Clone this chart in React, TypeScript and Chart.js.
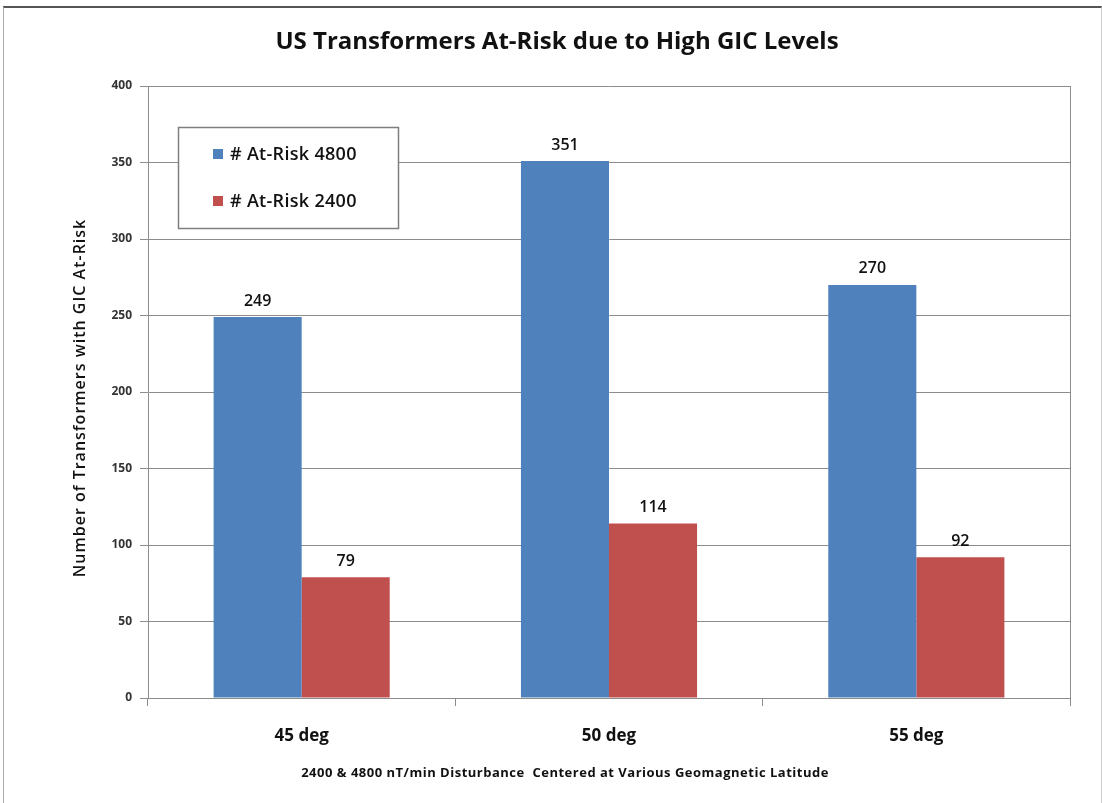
import React, { useEffect, useRef } from "react";
import { Chart, registerables } from "chart.js";

Chart.register(...registerables);

const categories = ["45 deg", "50 deg", "55 deg"];
const risk4800 = [249, 351, 270];
const risk2400 = [79, 114, 92];
const seriesNames = ["# At-Risk 4800", "# At-Risk 2400"];
const chartTitle = "US Transformers At-Risk due to High GIC Levels";
const yTitle = "Number of Transformers with GIC At-Risk";
const xTitle = "2400 & 4800 nT/min Disturbance  Centered at Various Geomagnetic Latitude";
const colors = ["#4F81BD", "#C0504D"];
const FONT = "'Open Sans', 'Noto Sans', sans-serif";

const decorPlugin = {
  id: "decor",
  afterDatasetsDraw(chart: any) {
    const ctx = chart.ctx;
    const area = chart.chartArea;
    ctx.save();
    // plot right border
    ctx.strokeStyle = "#8c8c8c";
    ctx.lineWidth = 1;
    ctx.beginPath();
    ctx.moveTo(Math.round(area.right) + 0.5, area.top);
    ctx.lineTo(Math.round(area.right) + 0.5, area.bottom);
    ctx.stroke();

    // data labels
    ctx.fillStyle = "#111";
    ctx.font = `600 16px ${FONT}`;
    ctx.textAlign = "center";
    ctx.textBaseline = "bottom";
    chart.data.datasets.forEach((ds: any, i: number) => {
      const meta = chart.getDatasetMeta(i);
      meta.data.forEach((bar: any, j: number) => {
        ctx.fillText(String(ds.data[j]), bar.x, bar.y - 8);
      });
    });

    // title
    ctx.font = `bold 24px ${FONT}`;
    ctx.textBaseline = "middle";
    ctx.fillStyle = "#111";
    ctx.fillText(chartTitle, 557, 42);

    // x title
    ctx.font = `bold 13px ${FONT}`;
    (ctx as any).letterSpacing = "0.5px";
    ctx.fillText(xTitle, 565, 773);

    // y title
    ctx.save();
    ctx.translate(80, 398);
    ctx.rotate(-Math.PI / 2);
    ctx.font = `600 16px ${FONT}`;
    (ctx as any).letterSpacing = "1px";
    ctx.fillText(yTitle, 0, 0);
    ctx.restore();

    // legend
    ctx.fillStyle = "#fff";
    ctx.fillRect(178, 127, 220, 101);
    ctx.strokeStyle = "#7f7f7f";
    ctx.lineWidth = 1.5;
    ctx.strokeRect(178.5, 127.5, 220, 101);
    const ys = [154, 201];
    seriesNames.forEach((name, i) => {
      ctx.fillStyle = colors[i];
      ctx.fillRect(213, ys[i] - 5, 10, 10);
      ctx.fillStyle = "#111";
      ctx.font = `600 18px ${FONT}`;
      (ctx as any).letterSpacing = "0.3px";
      ctx.textAlign = "left";
      ctx.textBaseline = "middle";
      ctx.fillText(name, 230, ys[i] + 1);
    });
    ctx.restore();
  },
};

export default function App() {
  const ref = useRef<HTMLCanvasElement>(null);
  useEffect(() => {
    document.body.style.margin = "0";
    const chart = new Chart(ref.current!, {
      type: "bar",
      data: {
        labels: categories,
        datasets: [
          { label: seriesNames[0], data: risk4800, backgroundColor: colors[0], barPercentage: 1, categoryPercentage: 0.573 },
          { label: seriesNames[1], data: risk2400, backgroundColor: colors[1], barPercentage: 1, categoryPercentage: 0.573 },
        ],
      },
      options: {
        animation: false,
        responsive: false,
        layout: { padding: { top: 86, right: 32, left: 0, bottom: 0 } },
        plugins: { legend: { display: false }, title: { display: false }, tooltip: { enabled: false } },
        scales: {
          x: {
            grid: { drawOnChartArea: false, tickLength: 8, offset: true, color: "#8c8c8c" },
            border: { color: "#8c8c8c" },
            ticks: { font: { family: FONT, size: 17, weight: "bold" }, color: "#111", padding: 20 },
            afterFit: (s: any) => { s.height = 105; },
          },
          y: {
            min: 0,
            max: 400,
            ticks: { stepSize: 50, font: { family: FONT, size: 12, weight: "bold" }, color: "#333", padding: 8 },
            grid: { color: "#8c8c8c", tickLength: 8 },
            border: { color: "#8c8c8c" },
            afterFit: (s: any) => { s.width = 148; },
          },
        },
      },
      plugins: [decorPlugin],
    });
    return () => chart.destroy();
  }, []);
  return (
    <div style={{ width: 1102, height: 803, position: "relative", background: "#fff" }}>
      <canvas ref={ref} width={1102} height={803} style={{ display: "block" }} />
      <div style={{ position: "absolute", left: 3, top: 6, width: 1097, height: 795, borderTop: "2px solid #555", borderLeft: "1px solid #aaa", borderRight: "1px solid #ccc", borderBottom: "1px solid #ccc", pointerEvents: "none" }} />
    </div>
  );
}
